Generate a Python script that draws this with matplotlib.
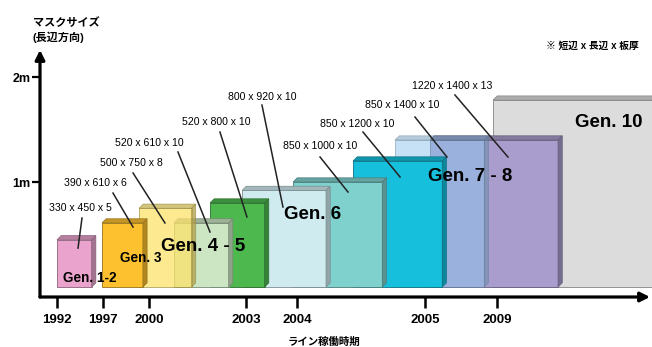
import matplotlib
matplotlib.use('Agg')
import matplotlib.pyplot as plt
from matplotlib.patches import Polygon, Rectangle
from matplotlib.colors import to_rgb

plt.rcParams['font.family'] = ['Liberation Sans', 'Noto Sans CJK JP', 'DejaVu Sans']

# Mask sizes per line generation (mm): short side, long side, thickness
short_side = [330, 390, 500, 520, 520, 800, 850, 850, 850, 1220, 1620]
long_side = [450, 610, 750, 610, 800, 920, 1000, 1200, 1400, 1400, 1780]
thickness = [5, 6, 8, 10, 10, 10, 10, 10, 10, 13, None]

years = ['1992', '1997', '2000', '2003', '2004', '2005', '2009']
gen_names = ['Gen. 1-2', 'Gen. 3', 'Gen. 4 - 5', 'Gen. 6', 'Gen. 7 - 8', 'Gen. 10']

# layout (metres along the drawn axis)
box_x = [0.162, 0.590, 0.943, 1.276, 1.619, 1.924, 2.410, 2.981, 3.381, 3.714, 4.314]
box_colors = ['#e9a3cc', '#fdc02f', '#fce26b', '#cce6c4', '#4cb84e', '#cfebf0',
              '#7fd1cd', '#16bfdc', '#8fc5ed', '#a99dcd', '#dcdcdc']
box_alpha = [1, 1, 0.75, 1, 1, 1, 1, 1, 0.5, 1, 1]
year_x = [0.162, 0.60, 1.038, 1.962, 2.448, 3.667, 4.352]

# size label text centre, leader start, leader end
label_pos = [(0.381, 0.752), (0.524, 0.990), (0.867, 1.181), (1.038, 1.371),
             (1.676, 1.571), (2.114, 1.810), (2.667, 1.343), (3.019, 1.552),
             (3.448, 1.733), (3.924, 1.914)]
leader_from = [(0.400, 0.657), (0.695, 0.895), (0.886, 1.086), (1.314, 1.286),
               (1.714, 1.476), (2.114, 1.733), (2.667, 1.238), (3.076, 1.476),
               (3.571, 1.619), (3.952, 1.829)]
leader_to = [(0.362, 0.371), (0.886, 0.571), (1.190, 0.610), (1.619, 0.524),
             (1.971, 0.667), (2.314, 0.762), (2.933, 0.905), (3.429, 1.048),
             (3.876, 1.238), (4.457, 1.238)]
gen_pos = [(0.476, 0.086), (0.962, 0.276), (1.552, 0.390), (2.60, 0.695),
           (4.095, 1.048), (5.419, 1.571)]
gen_size = [9.8, 9.8, 13.5, 13.5, 13.5, 13.5]

DEPTH = 0.04
Y0 = -0.095


def shade(color, f):
    r, g, b = to_rgb(color)
    return (r * f, g * f, b * f)


def draw_box(ax, x, w, h, color, alpha, z):
    edge = shade(color, 0.6)
    ax.add_patch(Rectangle((x, 0), w, h, facecolor=color, edgecolor=edge,
                           linewidth=0.6, alpha=alpha, zorder=z))
    top = [(x, h), (x + DEPTH, h + DEPTH), (x + w + DEPTH, h + DEPTH), (x + w, h)]
    ax.add_patch(Polygon(top, closed=True, facecolor=shade(color, 0.78),
                         edgecolor=edge, linewidth=0.5, alpha=alpha, zorder=z))
    side = [(x + w, 0), (x + w + DEPTH, DEPTH), (x + w + DEPTH, h + DEPTH), (x + w, h)]
    ax.add_patch(Polygon(side, closed=True, facecolor=shade(color, 0.7),
                         edgecolor=edge, linewidth=0.5, alpha=alpha, zorder=z))


fig = plt.figure(figsize=(6.52, 3.47), dpi=100)
ax = fig.add_axes([40 / 652, 50 / 347, 612 / 652, 247 / 347])
ax.set_xlim(0, 612 / 105)
ax.set_ylim(Y0, Y0 + 247 / 105)
for s in ax.spines.values():
    s.set_visible(False)

# earlier generations sit in front
n = len(short_side)
for i in range(n):
    draw_box(ax, box_x[i], short_side[i] / 1000, long_side[i] / 1000,
             box_colors[i], box_alpha[i], z=2 + n - i)

for i, t in enumerate(thickness):
    if t is None:
        continue
    txt = f'{short_side[i]} x {long_side[i]} x {t}'
    ax.text(*label_pos[i], txt, fontsize=7.6, ha='center', va='center', zorder=30)
    (x1, y1), (x2, y2) = leader_from[i], leader_to[i]
    ax.plot([x1, x2], [y1, y2], color='#222222', lw=1.1, zorder=30)

for name, pos, fs in zip(gen_names, gen_pos, gen_size):
    ax.text(*pos, name, fontsize=fs, fontweight='bold', ha='center', va='center', zorder=31)

# axes drawn as arrows
ax.annotate('', xy=(0, Y0 + 247 / 105), xytext=(0, Y0),
            arrowprops=dict(arrowstyle='-|>', lw=2.3, color='black',
                            mutation_scale=14, shrinkA=0, shrinkB=0),
            annotation_clip=False, zorder=40)
ax.annotate('', xy=(610 / 105, Y0), xytext=(0, Y0),
            arrowprops=dict(arrowstyle='-|>', lw=2.3, color='black',
                            mutation_scale=14, shrinkA=0, shrinkB=0),
            annotation_clip=False, zorder=40)

ax.set_xticks(year_x, labels=years)
ax.set_yticks([1, 2], labels=['1m', '2m'])
ax.tick_params(axis='x', direction='out', length=8, width=1.8, pad=4, labelsize=9.5)
ax.tick_params(axis='y', direction='out', length=6, width=1.6, pad=1, labelsize=9)
for lab in ax.get_xticklabels() + ax.get_yticklabels():
    lab.set_fontweight('bold')

ax.text(-0.07, 2.45, 'マスクサイズ\n(長辺方向)', fontsize=8, fontweight='bold',
        ha='left', va='center', linespacing=1.4)
ax.text(5.7, 2.3, '※ 短辺 x 長辺 x 板厚', fontsize=7, fontweight='bold',
        ha='right', va='center', color='black')
ax.text(2.7, -0.52, 'ライン稼働時期', fontsize=7.5, fontweight='bold',
        ha='center', va='center')

fig.savefig('out.png', dpi=100)
plt.close(fig)
